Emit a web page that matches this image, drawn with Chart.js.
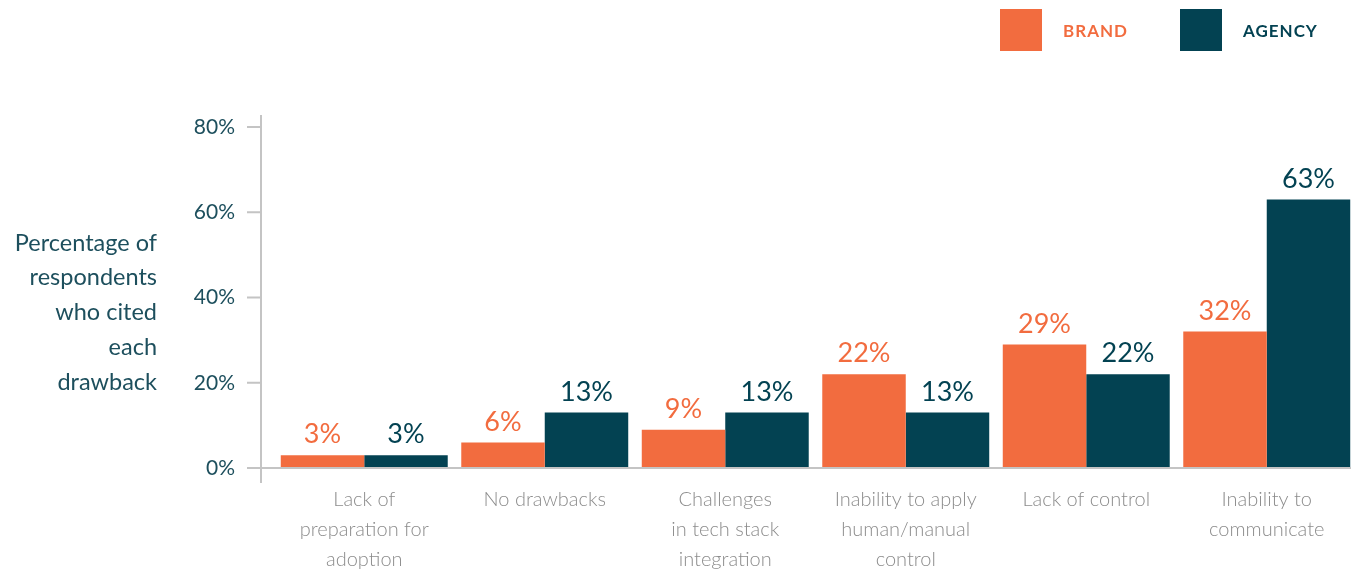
<!DOCTYPE html>
<html>
<head>
<meta charset="utf-8">
<script src="https://cdn.jsdelivr.net/npm/chart.js@4"></script>
<style>
  html, body { margin: 0; padding: 0; background: #fff; overflow: hidden; }
  #wrap { position: relative; width: 1351px; height: 569px; overflow: hidden; }
  #legend { position: absolute; left: 1000px; top: 9px; display: flex; font-family: Lato, sans-serif; }
  #legend .item { display: flex; align-items: center; margin-right: 52px; }
  #legend .box { width: 42px; height: 42px; margin-right: 21px; }
  #legend .txt { font-weight: bold; font-size: 17px; letter-spacing: 1px; }
</style>
</head>
<body>
<div id="wrap">
  <canvas id="drawbacks" width="1357" height="569"></canvas>
  <div id="legend"></div>
</div>
<script>
var categories = [
  ['Lack of', 'preparation for', 'adoption'],
  ['No drawbacks'],
  ['Challenges', 'in tech stack', 'integration'],
  ['Inability to apply', 'human/manual', 'control'],
  ['Lack of control'],
  ['Inability to', 'communicate']
];
var brandValues = [3, 6, 9, 22, 29, 32];
var agencyValues = [3, 13, 13, 13, 22, 63];
var yTicks = [0, 20, 40, 60, 80];
var yTitle = ['Percentage of', 'respondents', 'who cited', 'each', 'drawback'];

var ORANGE = '#f26c3f';
var TEAL = '#034252';
var FONT = 'Lato, sans-serif';

// axis lines, tick marks, value labels and the side title
var decorations = {
  id: 'decorations',
  afterDraw: function (chart) {
    var ctx = chart.ctx;
    var area = chart.chartArea;
    var y = chart.scales.y;
    var axisX = area.left - 13;
    ctx.save();
    ctx.strokeStyle = '#c4c4c4';
    ctx.lineWidth = 2;
    ctx.beginPath();
    ctx.moveTo(axisX, area.top - 12);
    ctx.lineTo(axisX, area.bottom + 15);
    yTicks.forEach(function (t) {
      var py = y.getPixelForValue(t);
      ctx.moveTo(axisX - 14, py);
      ctx.lineTo(t === 0 ? chart.width : axisX, py);
    });
    ctx.stroke();

    ctx.font = '27px ' + FONT;
    ctx.textAlign = 'center';
    ctx.textBaseline = 'bottom';
    chart.data.datasets.forEach(function (ds, di) {
      ctx.fillStyle = ds.backgroundColor;
      chart.getDatasetMeta(di).data.forEach(function (bar, i) {
        ctx.fillText(ds.data[i] + '%', bar.x, bar.y - 7);
      });
    });

    ctx.font = '23.5px ' + FONT;
    ctx.fillStyle = '#1d4f5d';
    ctx.textAlign = 'right';
    ctx.textBaseline = 'middle';
    yTitle.forEach(function (line, i) {
      ctx.fillText(line, 157, 243 + i * 34.8);
    });
    ctx.restore();
  }
};

var ctx = document.getElementById('drawbacks').getContext('2d');
var chart = new Chart(ctx, {
  type: 'bar',
  data: {
    labels: categories,
    datasets: [{
      label: 'BRAND',
      backgroundColor: ORANGE,
      data: brandValues
    }, {
      label: 'AGENCY',
      backgroundColor: TEAL,
      data: agencyValues
    }]
  },
  options: {
    responsive: false,
    animation: false,
    layout: { padding: { top: 127, right: 0, left: 0, bottom: 0 } },
    datasets: { bar: { barPercentage: 1, categoryPercentage: 0.925 } },
    plugins: {
      legend: { display: false },
      tooltip: { enabled: false }
    },
    scales: {
      x: {
        grid: { display: false, drawTicks: false },
        border: { display: false },
        ticks: {
          padding: 17,
          color: '#8c8c8c',
          font: { family: FONT, size: 20, weight: '300', lineHeight: 1.5 },
          maxRotation: 0,
          autoSkip: false
        },
        afterFit: function (scale) { scale.height = 101; }
      },
      y: {
        min: 0,
        max: 80,
        grid: { display: false, drawTicks: false },
        border: { display: false },
        ticks: {
          stepSize: 20,
          padding: 39,
          color: '#1d4f5d',
          font: { family: FONT, size: 21 },
          callback: function (v) { return v + '%'; }
        },
        afterFit: function (scale) { scale.width = 274; }
      }
    }
  },
  plugins: [decorations]
});

// legend squares with their labels
var legend = document.getElementById('legend');
chart.data.datasets.forEach(function (ds) {
  var item = document.createElement('div');
  item.className = 'item';
  var box = document.createElement('div');
  box.className = 'box';
  box.style.background = ds.backgroundColor;
  var txt = document.createElement('span');
  txt.className = 'txt';
  txt.style.color = ds.backgroundColor;
  txt.textContent = ds.label;
  item.appendChild(box);
  item.appendChild(txt);
  legend.appendChild(item);
});
</script>
</body>
</html>
